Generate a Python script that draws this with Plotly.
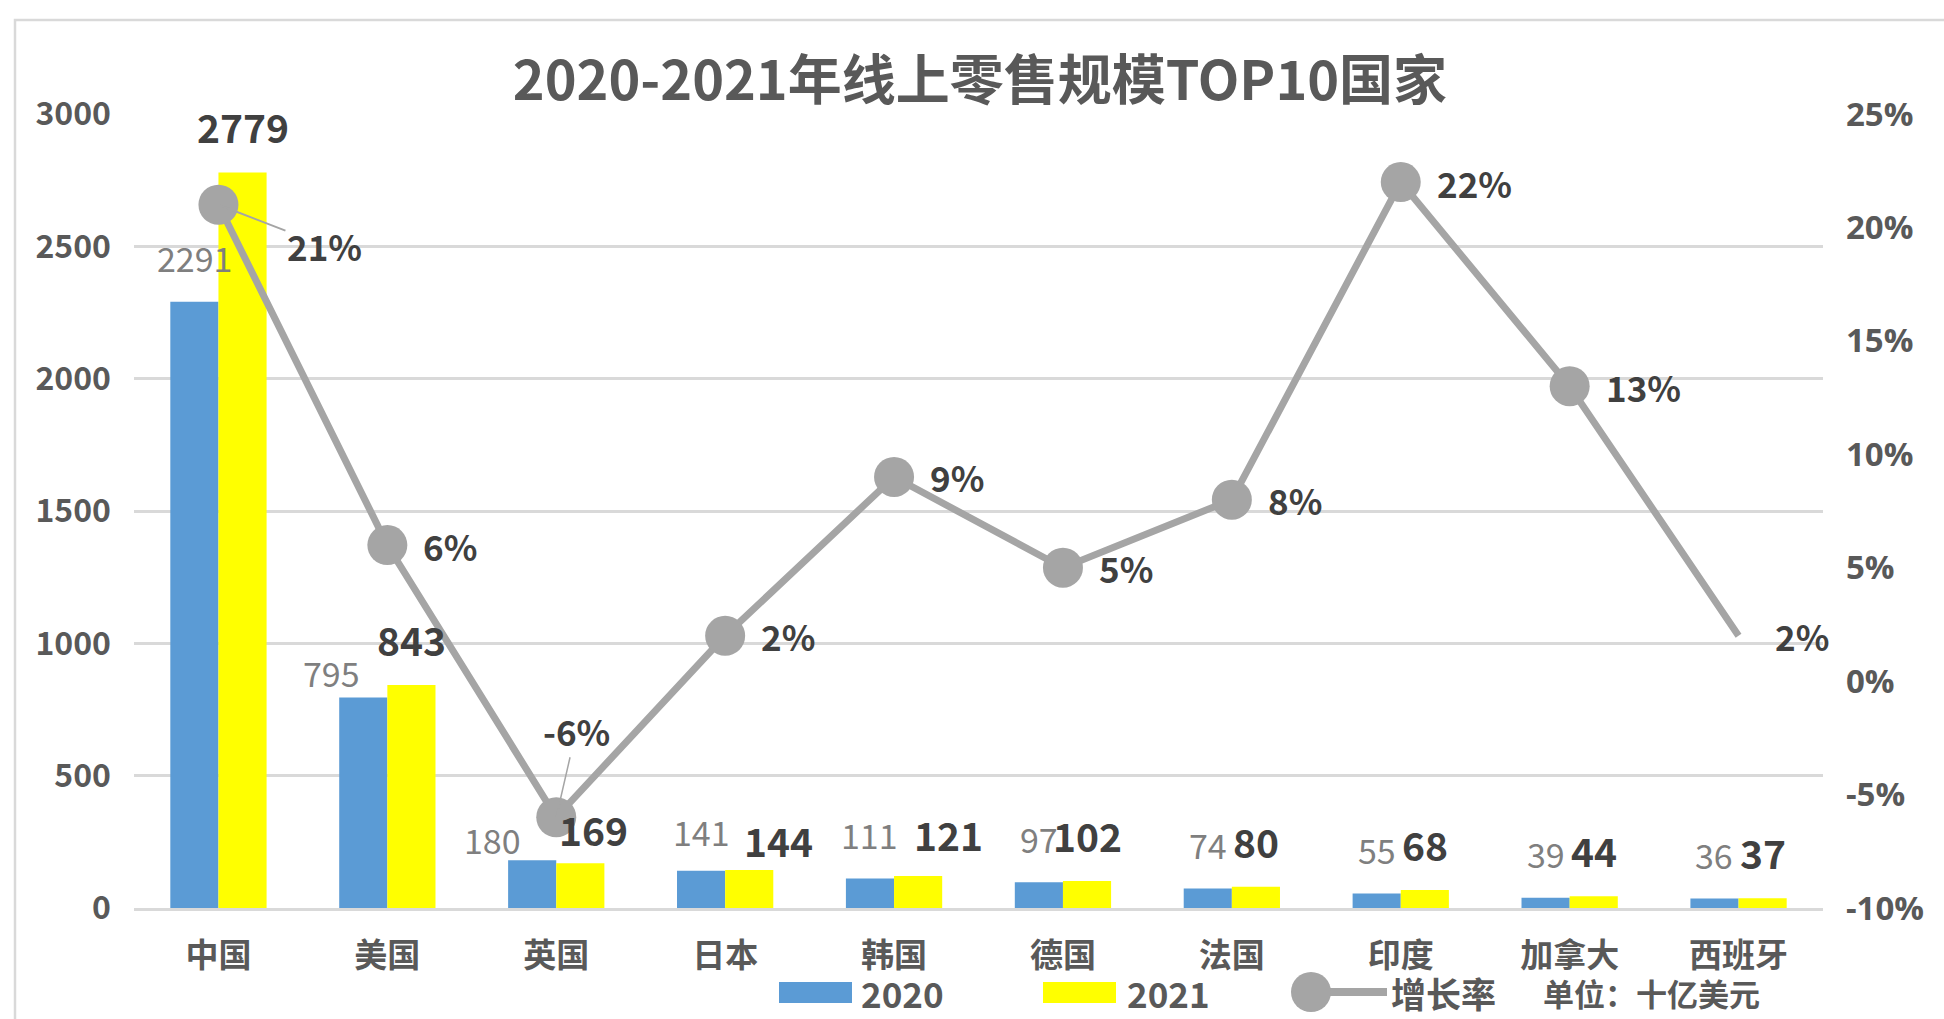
import plotly.graph_objects as go

# ---------------- data ----------------
categories = ["中国", "美国", "英国", "日本", "韩国", "德国", "法国", "印度", "加拿大", "西班牙"]
sales_2020 = [2291, 795, 180, 141, 111, 97, 74, 55, 39, 36]
sales_2021 = [2779, 843, 169, 144, 121, 102, 80, 68, 44, 37]
growth_pct = [21, 6, -6, 2, 9, 5, 8, 22, 13, 2]
left_ticks = [0, 500, 1000, 1500, 2000, 2500, 3000]
right_ticks = [-10, -5, 0, 5, 10, 15, 20, 25]

# label nudges (pixels), style only
nudge_2020 = {1: (-32, -19), 2: (-40, -23), 3: (0, -5)}
nudge_2021 = {2: (13, -12), 3: (29, -16), 4: (30, -4)}

# ---------------- layout geometry ----------------
W, H = 1944, 1019
L, R, T, B = 134, 121, 114, 111
PW, PH = W - L - R, H - T - B
BOTTOM = H - B

def px(x):
    return (x - L) / PW

def py(y):
    return (BOTTOM - y) / PH

BLUE = "#5B9BD5"
YELLOW = "#FFFF00"
GREY = "#A5A5A5"
DARK = "#404040"
AXIS = "#595959"
GRID = "#D9D9D9"
FONT = "Noto Sans CJK SC"

BARGAP = 0.43
half = (1 - BARGAP) / 4  # offset of each bar center from category center

fig = go.Figure()
fig.add_trace(go.Bar(x=categories, y=sales_2020, name="2020", marker_color=BLUE,
                     marker_line_width=0))
fig.add_trace(go.Bar(x=categories, y=sales_2021, name="2021", marker_color=YELLOW,
                     marker_line_width=0))
fig.add_trace(go.Scatter(x=categories, y=growth_pct, name="增长率", yaxis="y2",
                         mode="lines+markers", opacity=1, cliponaxis=False,
                         line=dict(color=GREY, width=7),
                         marker=dict(color=GREY, opacity=1,
                                     size=[40] * (len(categories) - 1) + [0],
                                     line=dict(width=0))))

annotations = []
for i, v in enumerate(sales_2020):
    dx, dy = nudge_2020.get(i, (0, 0))
    annotations.append(dict(x=i - half, y=v, xref="x", yref="y", text=str(v),
                            showarrow=False, xanchor="center", yanchor="middle",
                            xshift=dx, yshift=44 + dy,
                            font=dict(family=FONT, size=34, color="#7F7F7F")))
for i, v in enumerate(sales_2021):
    dx, dy = nudge_2021.get(i, (0, 0))
    annotations.append(dict(x=i + half, y=v, xref="x", yref="y", text=str(v),
                            showarrow=False, xanchor="center", yanchor="middle",
                            xshift=dx, yshift=46 + dy,
                            font=dict(family=FONT, size=39, color=DARK, weight="bold")))
for i, g in enumerate(growth_pct):
    base = dict(x=i, y=g, xref="x", yref="y2", text=f"{g}%",
                font=dict(family=FONT, size=35, color=DARK, weight="bold"))
    if i == 0:
        base.update(showarrow=True, ax=106, ay=41, arrowhead=0, arrowwidth=2,
                    arrowcolor=GREY, standoff=0)
    elif i == 2:
        base.update(showarrow=True, ax=20, ay=-87, arrowhead=0, arrowwidth=1.5,
                    arrowcolor=GREY, standoff=0)
    else:
        base.update(showarrow=False, xanchor="left", yanchor="middle", xshift=34)
    annotations.append(base)

# manual legend
leg_y = 992
legend_items = [
    (859, "2020"),
    (1125, "2021"),
    (1389, "增长率"),
]
for xl, txt in legend_items:
    annotations.append(dict(x=px(xl), y=py(leg_y), xref="paper", yref="paper", text=txt,
                            showarrow=False, xanchor="left", yanchor="middle",
                            font=dict(family=FONT, size=35, color=AXIS, weight="bold")))
annotations.append(dict(x=px(1541), y=py(leg_y), xref="paper", yref="paper",
                        text="单位：十亿美元", showarrow=False, xanchor="left", yanchor="middle",
                        font=dict(family=FONT, size=31, color=AXIS, weight="bold")))

shapes = [
    dict(type="rect", xref="paper", yref="paper", x0=px(779), x1=px(852),
         y0=py(1003), y1=py(982), fillcolor=BLUE, line=dict(width=0)),
    dict(type="rect", xref="paper", yref="paper", x0=px(1043), x1=px(1116),
         y0=py(1003), y1=py(982), fillcolor=YELLOW, line=dict(width=0)),
    dict(type="line", xref="paper", yref="paper", x0=px(1311), x1=px(1387),
         y0=py(leg_y), y1=py(leg_y), line=dict(color=GREY, width=8)),
    dict(type="circle", xref="paper", yref="paper", xsizemode="pixel", ysizemode="pixel",
         xanchor=px(1311), yanchor=py(leg_y), x0=-20, x1=20, y0=-20, y1=20,
         fillcolor=GREY, line=dict(width=0)),
    # outer frame
    dict(type="rect", xref="paper", yref="paper", x0=px(15), x1=px(1960),
         y0=py(1040), y1=py(20), line=dict(color=GRID, width=2.5),
         fillcolor="rgba(0,0,0,0)", layer="below"),
]

fig.update_layout(
    width=W, height=H,
    margin=dict(l=L, r=R, t=T, b=B, pad=0),
    paper_bgcolor="white", plot_bgcolor="white",
    barmode="group", bargap=BARGAP, bargroupgap=0,
    showlegend=False,
    title=dict(text="2020-2021年线上零售规模TOP10国家", x=980 / W, xanchor="center",
               y=1 - 81 / H, yanchor="middle",
               font=dict(family=FONT, size=54, color=AXIS, weight="bold")),
    xaxis=dict(type="category", range=[-0.5, len(categories) - 0.5], autorange=False,
               showgrid=False, showline=True, linecolor=GRID,
               linewidth=3, ticks="", ticklabelstandoff=16,
               tickfont=dict(family=FONT, size=33, color=AXIS, weight="bold")),
    yaxis=dict(range=[0, 3000], tickvals=left_ticks, showgrid=True, gridcolor=GRID,
               gridwidth=2.5, zeroline=False, showline=False, ticks="",
               ticklabelstandoff=22,
               tickfont=dict(family=FONT, size=32, color=AXIS, weight="bold")),
    yaxis2=dict(range=[-10, 25], tickvals=right_ticks, ticktext=[f"{t}%" for t in right_ticks],
                overlaying="y", side="right", showgrid=False, zeroline=False,
                showline=False, ticks="", ticklabelstandoff=22,
                tickfont=dict(family="Open Sans", size=33, color=AXIS, weight="bold")),
    annotations=annotations,
    shapes=shapes,
)

fig.write_html("out.html")
